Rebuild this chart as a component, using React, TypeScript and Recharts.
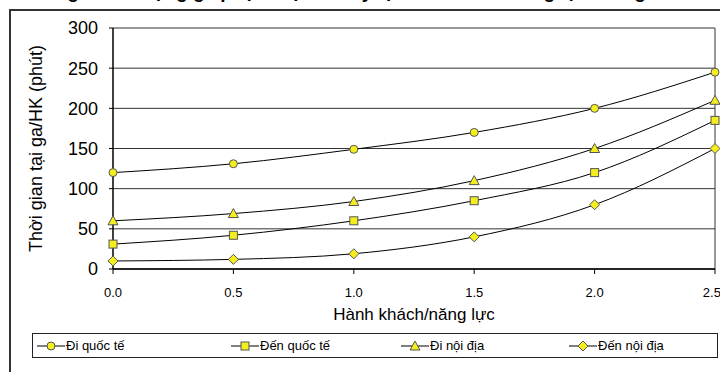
import React from 'react';
import {
  LineChart,
  Line,
  XAxis,
  YAxis,
  CartesianGrid,
  Legend,
  ReferenceLine,
} from 'recharts';

const loads = [0, 0.5, 1.0, 1.5, 2.0, 2.5];
const diQuocTe = [120, 131, 149, 170, 200, 245];
const denQuocTe = [31, 42, 60, 85, 120, 185];
const diNoiDia = [60, 69, 84, 110, 150, 210];
const denNoiDia = [10, 12, 19, 40, 80, 150];

const xTicks = [0, 0.5, 1.0, 1.5, 2.0, 2.5];
const yTicks = [0, 50, 100, 150, 200, 250, 300];

const data = loads.map((x, i) => ({
  x,
  diQT: diQuocTe[i],
  denQT: denQuocTe[i],
  diND: diNoiDia[i],
  denND: denNoiDia[i],
}));

const FONT = '"Liberation Sans", Arial, sans-serif';
const YELLOW = '#f5ee1e';
const EDGE = '#555';

type Shape = 'circle' | 'square' | 'triangle' | 'diamond';

function Marker({ cx, cy, shape }: { cx: number; cy: number; shape: Shape }) {
  if (cx == null || cy == null) return null;
  if (shape === 'circle') {
    return <circle cx={cx} cy={cy} r={4} fill={YELLOW} stroke={EDGE} strokeWidth={1} />;
  }
  if (shape === 'square') {
    return <rect x={cx - 4} y={cy - 4} width={8} height={8} fill={YELLOW} stroke={EDGE} strokeWidth={1} />;
  }
  if (shape === 'triangle') {
    return (
      <polygon
        points={`${cx},${cy - 5} ${cx + 5},${cy + 4} ${cx - 5},${cy + 4}`}
        fill={YELLOW}
        stroke={EDGE}
        strokeWidth={1}
      />
    );
  }
  return (
    <polygon
      points={`${cx},${cy - 5} ${cx + 5},${cy} ${cx},${cy + 5} ${cx - 5},${cy}`}
      fill={YELLOW}
      stroke={EDGE}
      strokeWidth={1}
    />
  );
}

const series: { key: string; name: string; shape: Shape }[] = [
  { key: 'diQT', name: 'Đi quốc tế', shape: 'circle' },
  { key: 'denQT', name: 'Đến quốc tế', shape: 'square' },
  { key: 'diND', name: 'Đi nội địa', shape: 'triangle' },
  { key: 'denND', name: 'Đến nội địa', shape: 'diamond' },
];

const legendX = [36, 230, 400, 568];

function LegendBox() {
  return (
    <div
      style={{
        position: 'relative',
        width: 684,
        height: 23,
        border: '1px solid #222',
        background: '#fff',
        fontFamily: FONT,
        fontSize: 13,
        color: '#000',
      }}
    >
      {series.map((s, i) => (
        <div
          key={s.key}
          style={{
            position: 'absolute',
            left: legendX[i] - 32,
            top: 4,
            display: 'flex',
            alignItems: 'center',
            whiteSpace: 'nowrap',
          }}
        >
          <svg width={28} height={14} style={{ marginRight: 1 }}>
            <line x1={0} y1={7} x2={28} y2={7} stroke="#000" strokeWidth={1} />
            <Marker cx={14} cy={7} shape={s.shape} />
          </svg>
          <span>{s.name}</span>
        </div>
      ))}
    </div>
  );
}

export default function App() {
  return (
    <div
      style={{
        position: 'absolute',
        left: 0,
        top: 0,
        width: 720,
        height: 372,
        overflow: 'hidden',
        background: '#fff',
      }}
    >
      <div
        style={{
          position: 'absolute',
          left: 20,
          top: -19,
          fontFamily: FONT,
          fontWeight: 'bold',
          fontSize: 19,
          whiteSpace: 'nowrap',
          color: '#000',
        }}
      >
        Thời gian sử dụng ga phụ thuộc vào tỷ lệ hành khách/năng lực nhà ga
      </div>
      <div
        style={{
          position: 'absolute',
          left: 9,
          top: 9,
          width: 740,
          height: 400,
          borderLeft: '2px solid #333',
          borderTop: '2px solid #333',
        }}
      />
      <div style={{ position: 'absolute', left: 0, top: 0 }}>
        <LineChart
          width={720}
          height={372}
          data={data}
          margin={{ top: 28, right: 5, left: 0, bottom: 22 }}
        >
          <CartesianGrid vertical={false} stroke="#333" strokeWidth={1} />
          <XAxis
            dataKey="x"
            type="number"
            domain={[0, 2.5]}
            ticks={xTicks}
            tickFormatter={(v: number) => v.toFixed(1)}
            tick={{ fontSize: 13, fill: '#000', fontFamily: FONT }}
            tickLine={{ stroke: '#000' }}
            tickSize={5}
            axisLine={{ stroke: '#000', strokeWidth: 1.5 }}
            height={56}
            tickMargin={14}
            label={{
              value: 'Hành khách/năng lực',
              position: 'insideBottom',
              offset: 5,
              style: { fontSize: 17, fill: '#000', fontFamily: FONT },
            }}
          />
          <YAxis
            type="number"
            domain={[0, 300]}
            ticks={yTicks}
            width={113}
            tick={{ fontSize: 18, fill: '#000', fontFamily: FONT }}
            tickLine={{ stroke: '#000' }}
            tickSize={4}
            tickMargin={11}
            axisLine={{ stroke: '#000', strokeWidth: 1.5 }}
            label={{
              value: 'Thời gian tại ga/HK (phút)',
              angle: -90,
              position: 'insideLeft',
              offset: 36,
              style: { fontSize: 18, fill: '#000', fontFamily: FONT, textAnchor: 'middle' },
            }}
          />
          <ReferenceLine x={2.5} stroke="#333" strokeWidth={1} />
          {series.map((s) => (
            <Line
              key={s.key}
              type="monotone"
              dataKey={s.key}
              name={s.name}
              stroke="#000"
              strokeWidth={1}
              dot={(p: any) => <Marker key={`${s.key}-${p.index}`} cx={p.cx} cy={p.cy} shape={s.shape} />}
              activeDot={false}
              isAnimationActive={false}
            />
          ))}
          <Legend
            content={() => <LegendBox />}
            wrapperStyle={{ position: 'absolute', left: 32, top: 333, width: 686 }}
          />
        </LineChart>
      </div>
    </div>
  );
}
